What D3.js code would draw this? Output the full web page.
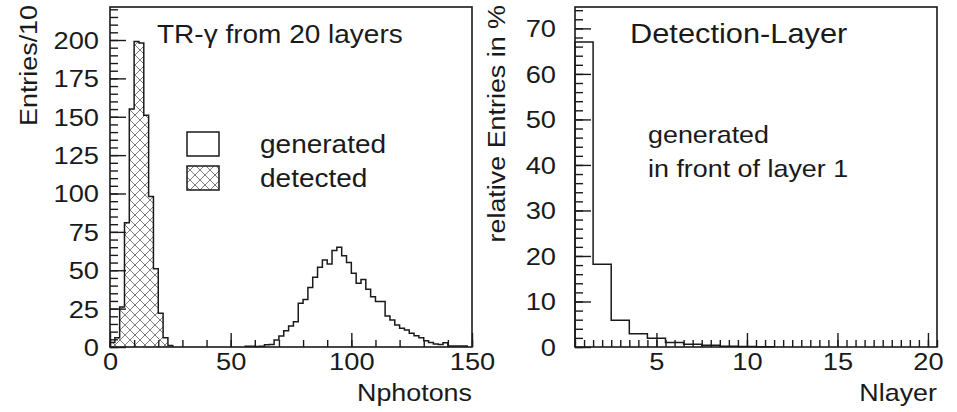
<!DOCTYPE html>
<html>
<head>
<meta charset="utf-8">
<script src="https://cdn.jsdelivr.net/npm/d3@7"></script>
<style>
    body { margin: 0; background: #fff; }
    svg text { font-family: "Liberation Sans", Arial, sans-serif; fill: #1a1a1a; }
</style>
</head>
<body>
<svg id="chart" width="957" height="412"></svg>
<script>
'use strict';

// left panel: photons per track, bins of width 2
var photonBinWidth = 2;
var detectedStart = 0;
var detectedCounts = [3, 6, 26, 81, 155, 199, 198, 151, 98, 51, 22, 6, 1];
var generatedStart = 56;
var generatedCounts = [0.5, 0.5, 0.3, 0.5, 1.5, 1.7, 4.6, 7.2, 10.6, 13.7,
                       16.5, 28.5, 31, 38.7, 45.4, 52, 56.7, 54, 62.8, 65,
                       59.5, 55, 48, 41.5, 44, 37.6, 32.8, 29.6, 29.6, 20.2,
                       17.6, 14.3, 12.2, 11.1, 8.9, 7.4, 6.1, 4.1, 3.0, 2.0,
                       1.7, 2.8, 0.7, 0.7, 0.7, 0.7];
var photonXTicks = [0, 50, 100, 150];
var photonYTicks = [0, 25, 50, 75, 100, 125, 150, 175, 200];

// right panel: detection layer, bins of width 1 centred on the layer number
var layerBinWidth = 1;
var layerStart = 0.5;
var layerPercent = [67, 18.2, 5.9, 2.9, 1.9, 1.0, 0.6, 0.4, 0.15, 0.1, 0.05];
var layerXTicks = [5, 10, 15, 20];
var layerYTicks = [0, 10, 20, 30, 40, 50, 60, 70];

var SX = 1.12; // the picture's lettering is a bit wider than Arial

function stepPoints(start, width, counts) {
    var pts = [[start, 0]];
    counts.forEach(function(c, i) {
        pts.push([start + i * width, c]);
        pts.push([start + (i + 1) * width, c]);
    });
    pts.push([start + counts.length * width, 0]);
    return pts;
}

function label(g, txt, x, y, size, anchor, rotate) {
    return g.append('text')
        .attr('transform', 'translate(' + x + ',' + y + ')' +
              (rotate ? ' rotate(-90) scale(' + SX + ',1)' : ' scale(' + SX + ',1)'))
        .attr('text-anchor', anchor || 'start')
        .style('font-size', size + 'px')
        .text(txt);
}

function panel() {
    var frame = {x0: 0, x1: 0, y0: 7, y1: 347};
    var xDomain, yDomain, xMajor, xMinor, yMajor, yMinor;
    var yPad = 10;

    function display(selection) {
        selection.each(function(data) {
            var g = d3.select(this);
            var x = d3.scaleLinear().domain(xDomain).range([frame.x0, frame.x1]);
            var y = d3.scaleLinear().domain(yDomain).range([frame.y1, frame.y0]);
            var line = d3.line().x(function(d) { return x(d[0]); }).y(function(d) { return y(d[1]); });

            data.series.forEach(function(s) {
                g.append('path')
                    .datum(stepPoints(s.start, s.width, s.counts))
                    .attr('d', line)
                    .attr('fill', s.fill || 'none')
                    .attr('stroke', '#1a1a1a')
                    .attr('stroke-width', 1.5)
                    .attr('stroke-linejoin', 'miter');
            });

            // minor ticks, then major ticks with labels (ticks point inwards)
            g.append('g')
                .attr('transform', 'translate(0,' + frame.y1 + ')')
                .call(d3.axisBottom(x).tickValues(xMinor).tickSize(-7).tickFormat(''));
            g.append('g')
                .attr('transform', 'translate(' + frame.x0 + ',0)')
                .call(d3.axisLeft(y).tickValues(yMinor).tickSize(-8).tickFormat(''));
            var xa = g.append('g')
                .attr('class', 'major')
                .attr('transform', 'translate(0,' + frame.y1 + ')')
                .call(d3.axisBottom(x).tickValues(xMajor).tickSize(-14).tickPadding(6));
            var ya = g.append('g')
                .attr('class', 'major')
                .attr('transform', 'translate(' + frame.x0 + ',0)')
                .call(d3.axisLeft(y).tickValues(yMajor).tickSize(-16));

            g.selectAll('.domain').remove();
            g.selectAll('.tick line').attr('stroke', '#1a1a1a').attr('stroke-width', 1.4);
            g.selectAll('.major text')
                .attr('fill', '#1a1a1a')
                .style('font-family', '"Liberation Sans", Arial, sans-serif')
                .style('font-size', '23.5px')
                .attr('transform', 'scale(1.16,1)');
            ya.selectAll('text').attr('x', -yPad / 1.16).attr('dy', '0.36em');

            g.append('rect')
                .attr('x', frame.x0).attr('y', frame.y0)
                .attr('width', frame.x1 - frame.x0).attr('height', frame.y1 - frame.y0)
                .attr('fill', 'none').attr('stroke', '#1a1a1a').attr('stroke-width', 1.6);
        });
    }

    display.frame = function(v) { if (!arguments.length) return frame; frame = v; return display; };
    display.xDomain = function(v) { xDomain = v; return display; };
    display.yDomain = function(v) { yDomain = v; return display; };
    display.yPad = function(v) { yPad = v; return display; };
    display.xTicks = function(major, minor) { xMajor = major; xMinor = minor; return display; };
    display.yTicks = function(major, minor) { yMajor = major; yMinor = minor; return display; };

    return display;
}

var svg = d3.select('#chart');
var defs = svg.append('defs');
var pat = defs.append('pattern')
    .attr('id', 'xhatch')
    .attr('patternUnits', 'userSpaceOnUse')
    .attr('width', 10).attr('height', 10);
pat.append('path')
    .attr('d', 'M0,0L10,10M10,0L0,10M-1,1L1,-1M9,11L11,9M-1,9L1,11M9,-1L11,1')
    .attr('stroke', '#666').attr('stroke-width', 0.85);

// left: Nphotons
svg.append('g')
    .datum({series: [
        {start: generatedStart, width: photonBinWidth, counts: generatedCounts},
        {start: detectedStart, width: photonBinWidth, counts: detectedCounts, fill: 'url(#xhatch)'}
    ]})
    .call(panel()
        .frame({x0: 110, x1: 472, y0: 7, y1: 347})
        .xDomain([0, 150])
        .yDomain([0, 221.5])
        .yPad(11)
        .xTicks(photonXTicks, d3.range(0, 151, 10))
        .yTicks(photonYTicks, d3.range(0, 221, 5)));

// right: Nlayer
svg.append('g')
    .datum({series: [
        {start: layerStart, width: layerBinWidth, counts: layerPercent}
    ]})
    .call(panel()
        .frame({x0: 575, x1: 937, y0: 7, y1: 347})
        .xDomain([0.5, 20.5])
        .yDomain([0, 74.7])
        .yPad(19)
        .xTicks(layerXTicks, d3.range(0.5, 20.6, 0.5))
        .yTicks(layerYTicks, d3.range(0, 75, 2)));

// texts
label(svg, 'Entries/10', 37, 5, 24, 'end', true);
label(svg, 'relative Entries in %', 505, 5, 24, 'end', true);
label(svg, 'Nphotons', 472, 401, 24, 'end');
label(svg, 'Nlayer', 937, 401, 24, 'end');
label(svg, 'TR-\u03b3 from 20 layers', 157, 43, 25);
label(svg, 'Detection-Layer', 630, 43, 27.5);
label(svg, 'generated', 648, 143, 24);
label(svg, 'in front of layer 1', 648, 177, 24);

// legend
svg.append('rect').attr('x', 187).attr('y', 132).attr('width', 32).attr('height', 24)
    .attr('fill', '#fff').attr('stroke', '#1a1a1a').attr('stroke-width', 1.5);
svg.append('rect').attr('x', 187).attr('y', 166).attr('width', 32).attr('height', 24)
    .attr('fill', 'url(#xhatch)').attr('stroke', '#1a1a1a').attr('stroke-width', 1.5);
label(svg, 'generated', 260, 153, 25);
label(svg, 'detected', 260, 187, 25);
</script>
</body>
</html>
